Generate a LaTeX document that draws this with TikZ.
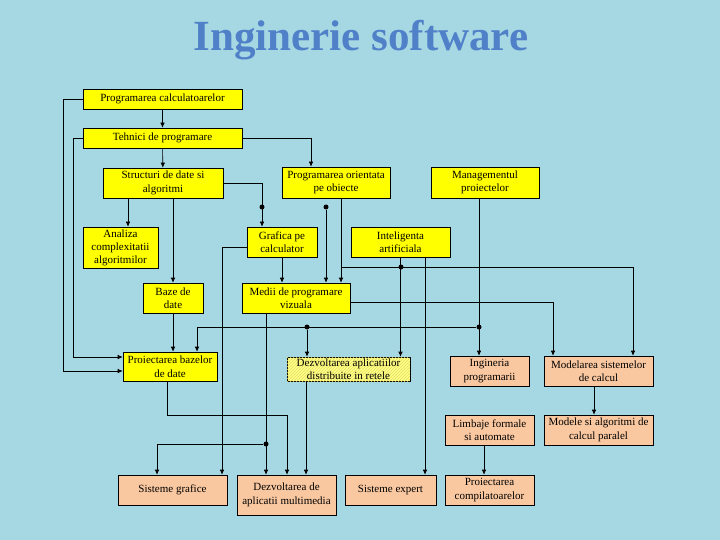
\documentclass[tikz,border=0pt]{standalone}
\usepackage{fontspec}
\setmainfont{Liberation Serif}
\usetikzlibrary{arrows.meta,patterns}

\definecolor{bgwater}{RGB}{166,216,228}
\definecolor{boxyellow}{RGB}{255,255,0}
\definecolor{boxpeach}{RGB}{250,200,160}
\definecolor{paleyellow}{RGB}{255,255,140}
\definecolor{hatchyellow}{RGB}{230,220,90}
\definecolor{titleblue}{RGB}{80,128,200}

\begin{document}
\begin{tikzpicture}[
    x=1pt, y=-1pt,
    topic/.style={
        rectangle,
        draw=black,
        line width=0.6pt,
        fill=boxyellow,
        align=center,
        inner sep=1pt,
        font=\fontsize{11}{13.5}\selectfont
    },
    course/.style={topic, fill=boxpeach},
    sz/.style 2 args={minimum width=#1pt, minimum height=#2pt},
    arr/.style={-{Latex[length=5pt,width=4.5pt]}, line width=0.6pt},
    junc/.style={circle, fill=black, inner sep=0pt, minimum size=5pt}
]

% background
\fill[bgwater] (0,0) rectangle (720,540);

\node[font=\fontsize{43}{43}\selectfont\bfseries, text=titleblue] (title) at (361,40) {Inginerie software};

% first column of topics
\node[topic, sz={159}{20}] (pc) at (162.5,99) {Programarea calculatoarelor};
\node[topic, sz={159}{20}] (tp) at (162.5,138) {Tehnici de programare};
\node[topic, sz={120}{30}] (sda) at (163,183) {Structuri de date si\\algoritmi};
\node[topic, sz={108}{31}] (poo) at (336,182.5) {Programarea orientata\\pe obiecte};
\node[topic, sz={108}{31}] (mp) at (485,182.5) {Managementul\\proiectelor};

\node[topic, sz={75}{41}, font=\fontsize{11}{13}\selectfont] (ac) at (120.5,247.5) {Analiza\\complexitatii\\algoritmilor};
\node[topic, sz={70}{30}] (gc) at (282,242) {Grafica pe\\calculator};
\node[topic, sz={99}{30}] (ia) at (400.5,242) {Inteligenta\\artificiala};

\node[topic, sz={60}{30}] (bd) at (173,298) {Baze de\\date};
\node[topic, sz={108}{30}] (mpv) at (296,298) {Medii de programare\\vizuala};

\node[topic, sz={94}{29}] (pbd) at (170,366.5) {Proiectarea bazelor\\de date};
\node[topic, sz={123}{24}, fill=paleyellow, font=\fontsize{11}{12.5}\selectfont,
      postaction={pattern=north east lines, pattern color=hatchyellow}] (dad) at (348.5,369) {Dezvoltarea aplicatiilor\\distribuite in retele};

% courses
\node[course, sz={79}{30}] (ip) at (489.5,371) {Ingineria\\programarii};
\node[course, sz={109}{30}] (msc) at (598.5,371) {Modelarea sistemelor\\de calcul};
\node[course, sz={89}{30}] (lfa) at (489.5,430) {Limbaje formale\\si automate};
\node[course, sz={109}{30}] (mac) at (598.5,430) {Modele si algoritmi de\\calcul paralel};

\node[course, sz={109}{30}] (sg) at (172.5,490) {Sisteme grafice};
\node[course, sz={99}{40}] (dam) at (286.5,495) {Dezvoltarea de\\aplicatii multimedia};
\node[course, sz={91}{30}] (se) at (390.5,490) {Sisteme expert};
\node[course, sz={89}{30}] (pcomp) at (489.5,490) {Proiectarea\\compilatoarelor};

% junctions
\node[junc] (j1) at (262,207) {};
\node[junc] (j2) at (326,207) {};
\node[junc] (j3) at (401,267) {};
\node[junc] (j4) at (479,327) {};
\node[junc] (j5) at (307,327) {};
\node[junc] (j6) at (266,444) {};
\coordinate (t9) at (341,267);

% connectors
\draw[arr] (pc) -- (tp);
\draw[arr] (pc.west) -| (63,371) -- (pbd.west |- 0,371);
\draw[arr] (tp.west) -| (73,357) -- (pbd.west |- 0,357);
\draw[arr] (tp) -- (sda);
\draw[arr] (tp.east) -| ([xshift=-25]poo.north);
\draw[arr] (sda.east) -| ([xshift=-20]gc.north);
\draw[arr] (j2) -- (j2 |- mpv.north);
\draw[arr] ([xshift=5]poo.south) -- ([xshift=5]poo.south |- mpv.north);
\draw[arr] (t9) -| ([xshift=34.5]msc.north);
\draw[arr] (ia.south) -- (ia.south |- dad.north);
\draw[arr] ([xshift=24.5]ia.south) -- ([xshift=24.5]ia.south |- se.north);
\draw[arr] ([xshift=-6]mp.south) -- ([xshift=-6]mp.south |- ip.north);
\draw[arr] (j4) -| ([xshift=27]pbd.north);
\draw[arr] (j5) -- (j5 |- dad.north);
\draw[arr] ([yshift=-4]mpv.east) -| ([xshift=-45.5]msc.north);
\draw[arr] ([xshift=-35]sda.south) -- ([xshift=-35]sda.south |- ac.north);
\draw[arr] ([xshift=10]sda.south) -- ([xshift=10]sda.south |- bd.north);
\draw[arr] (bd) -- (bd.south |- pbd.north);
\draw[arr] (gc.south) -- (gc.south |- mpv.north);
\draw[arr] ([yshift=-5]gc.west) -| ([xshift=49.5]sg.north);
\draw[arr] ([xshift=-30]mpv.south) -- ([xshift=-30]mpv.south |- dam.north);
\draw[arr] (j6) -| ([xshift=-15.5]sg.north);
\draw[arr] ([xshift=-3]pbd.south) -- ++(0,34) -| ([xshift=0.5]dam.north);
\draw[arr] ([xshift=-42.5]dad.south) -- ([xshift=-42.5]dad.south |- dam.north);
\draw[arr] ([xshift=-4.5]msc.south) -- ([xshift=-4.5]msc.south |- mac.north);
\draw[arr] ([xshift=-5.5]lfa.south) -- ([xshift=-5.5]lfa.south |- pcomp.north);

\end{tikzpicture}
\end{document}
